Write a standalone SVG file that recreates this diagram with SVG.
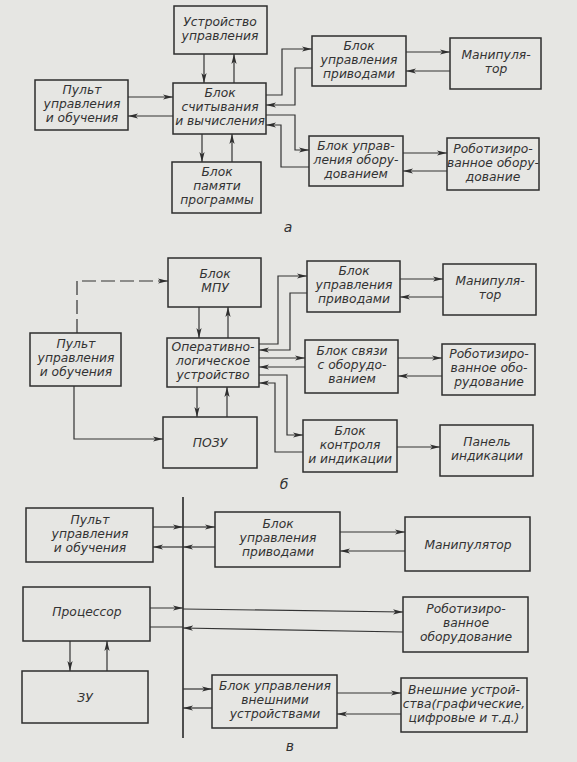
<svg xmlns="http://www.w3.org/2000/svg" width="577" height="762" viewBox="0 0 577 762">
<defs>
<marker id="ar" viewBox="0 -3 10 6" refX="10" refY="0" markerWidth="10" markerHeight="6" markerUnits="userSpaceOnUse" orient="auto">
<path d="M0,-2.6 L10,0 L0,2.6 L2.5,0 z" fill="#2e2e2e"/>
</marker>
<style>
.bx{fill:none;stroke:#2e2e2e;stroke-width:1.5}
.ln{fill:none;stroke:#333;stroke-width:1.2}
.ar{marker-end:url(#ar)}
.dash{stroke-dasharray:14,5}
text{font-family:"DejaVu Sans","Liberation Sans",sans-serif;font-style:italic;font-size:12.3px;fill:#333;text-anchor:middle}
.lbl{font-size:14px}
</style>
</defs>
<rect width="577" height="762" fill="#e6e6e3"/>

<!-- Part a -->
<g id="a_ustr"><rect class="bx" x="174" y="6" width="93" height="48"/><text x="220" y="25.5">Устройство<tspan x="220" dy="14">управления</tspan></text></g>
<g id="a_pult"><rect class="bx" x="35" y="80" width="93" height="50"/><text x="82" y="93.5">Пульт<tspan x="82" dy="14">управления</tspan><tspan x="82" dy="14">и обучения</tspan></text></g>
<g id="a_bsv"><rect class="bx" x="173" y="83" width="93" height="51"/><text x="220" y="97">Блок<tspan x="220" dy="14">считывания</tspan><tspan x="220" dy="14">и вычисления</tspan></text></g>
<g id="a_bpp"><rect class="bx" x="172" y="162" width="89" height="51"/><text x="217" y="176">Блок<tspan x="217" dy="14">памяти</tspan><tspan x="217" dy="14">программы</tspan></text></g>
<g id="a_bup"><rect class="bx" x="312" y="36" width="94" height="50"/><text x="359" y="49.5">Блок<tspan x="359" dy="14">управления</tspan><tspan x="359" dy="14">приводами</tspan></text></g>
<g id="a_man"><rect class="bx" x="450" y="38" width="91" height="51"/><text x="496" y="59">Манипуля-<tspan x="496" dy="14">тор</tspan></text></g>
<g id="a_buo"><rect class="bx" x="309" y="136" width="94" height="50"/><text x="356" y="149.5">Блок управ-<tspan x="356" dy="14">ления обору-</tspan><tspan x="356" dy="14">дованием</tspan></text></g>
<g id="a_rob"><rect class="bx" x="447" y="138" width="92" height="52"/><text x="493" y="152.5">Роботизиро-<tspan x="493" dy="14">ванное обору-</tspan><tspan x="493" dy="14">дование</tspan></text></g>
<text class="lbl" x="288" y="232">а</text>

<!-- Part b -->
<g id="b_mpu"><rect class="bx" x="168" y="258" width="93" height="49"/><text x="215" y="278">Блок<tspan x="215" dy="14">МПУ</tspan></text></g>
<g id="b_pult"><rect class="bx" x="30" y="333" width="91" height="53"/><text x="76" y="348">Пульт<tspan x="76" dy="14">управления</tspan><tspan x="76" dy="14">и обучения</tspan></text></g>
<g id="b_olu"><rect class="bx" x="167" y="338" width="92" height="49"/><text x="213" y="351">Оперативно-<tspan x="213" dy="14">логическое</tspan><tspan x="213" dy="14">устройство</tspan></text></g>
<g id="b_pozu"><rect class="bx" x="163" y="417" width="94" height="51"/><text x="210" y="447">ПОЗУ</text></g>
<g id="b_bup"><rect class="bx" x="307" y="261" width="93" height="51"/><text x="354" y="275">Блок<tspan x="354" dy="14">управления</tspan><tspan x="354" dy="14">приводами</tspan></text></g>
<g id="b_man"><rect class="bx" x="443" y="264" width="93" height="51"/><text x="490" y="285">Манипуля-<tspan x="490" dy="14">тор</tspan></text></g>
<g id="b_bso"><rect class="bx" x="305" y="340" width="93" height="53"/><text x="352" y="355">Блок связи<tspan x="352" dy="14">с оборудо-</tspan><tspan x="352" dy="14">ванием</tspan></text></g>
<g id="b_rob"><rect class="bx" x="442" y="344" width="93" height="51"/><text x="489" y="358">Роботизиро-<tspan x="489" dy="14">ванное обо-</tspan><tspan x="489" dy="14">рудование</tspan></text></g>
<g id="b_bki"><rect class="bx" x="303" y="420" width="94" height="52"/><text x="350" y="434.5">Блок<tspan x="350" dy="14">контроля</tspan><tspan x="350" dy="14">и индикации</tspan></text></g>
<g id="b_pan"><rect class="bx" x="440" y="425" width="93" height="51"/><text x="487" y="446">Панель<tspan x="487" dy="14">индикации</tspan></text></g>
<text class="lbl" x="284" y="489">б</text>

<!-- Part c -->
<g id="c_pult"><rect class="bx" x="26" y="508" width="127" height="54"/><text x="90" y="523.5">Пульт<tspan x="90" dy="14">управления</tspan><tspan x="90" dy="14">и обучения</tspan></text></g>
<g id="c_bup"><rect class="bx" x="215" y="512" width="125" height="55"/><text x="278" y="528">Блок<tspan x="278" dy="14">управления</tspan><tspan x="278" dy="14">приводами</tspan></text></g>
<g id="c_man"><rect class="bx" x="405" y="517" width="125" height="54"/><text x="468" y="548.5">Манипулятор</text></g>
<g id="c_proc"><rect class="bx" x="23" y="587" width="127" height="54"/><text x="87" y="616">Процессор</text></g>
<g id="c_rob"><rect class="bx" x="403" y="597" width="125" height="55"/><text x="466" y="613">Роботизиро-<tspan x="466" dy="14">ванное</tspan><tspan x="466" dy="14">оборудование</tspan></text></g>
<g id="c_zu"><rect class="bx" x="22" y="671" width="126" height="52"/><text x="85" y="701.5">ЗУ</text></g>
<g id="c_buvu"><rect class="bx" x="212" y="675" width="125" height="53"/><text x="275" y="690">Блок управления<tspan x="275" dy="14">внешними</tspan><tspan x="275" dy="14">устройствами</tspan></text></g>
<g id="c_vu"><rect class="bx" x="401" y="678" width="126" height="54"/><text x="464" y="693.5">Внешние устрой-<tspan x="464" dy="14">ства(графические,</tspan><tspan x="464" dy="14">цифровые и т.д.)</tspan></text></g>
<text class="lbl" x="290" y="751">в</text>

<g id="connectors">
<!-- a -->
<path class="ln ar" d="M204,54 V83"/>
<path class="ln ar" d="M234,83 V54"/>
<path class="ln ar" d="M128,97 H173"/>
<path class="ln ar" d="M173,116 H128"/>
<path class="ln ar" d="M202,134 V162"/>
<path class="ln ar" d="M232,162 V134"/>
<path class="ln ar" d="M266,95 H282 V49 H312"/>
<path class="ln ar" d="M312,68 H295 V105 H266"/>
<path class="ln ar" d="M266,115 H295 V150 H309"/>
<path class="ln ar" d="M309,167 H281 V125 H266"/>
<path class="ln ar" d="M406,52 H450"/>
<path class="ln ar" d="M450,71 H406"/>
<path class="ln ar" d="M403,153 H447"/>
<path class="ln ar" d="M447,171 H403"/>
<!-- b -->
<path class="ln ar dash" d="M77,333 V281 H168"/>
<path class="ln ar" d="M74,386 V439 H163"/>
<path class="ln ar" d="M199,307 V338"/>
<path class="ln ar" d="M228,338 V307"/>
<path class="ln ar" d="M197,387 V417"/>
<path class="ln ar" d="M227,417 V387"/>
<path class="ln ar" d="M259,344 H278 V276 H307"/>
<path class="ln ar" d="M307,293 H290 V350 H259"/>
<path class="ln ar" d="M259,358 H305"/>
<path class="ln ar" d="M305,367 H259"/>
<path class="ln ar" d="M259,375 H287 V435 H303"/>
<path class="ln ar" d="M303,452 H275 V383 H259"/>
<path class="ln ar" d="M400,279 H443"/>
<path class="ln ar" d="M443,297 H400"/>
<path class="ln ar" d="M398,358 H442"/>
<path class="ln ar" d="M442,376 H398"/>
<path class="ln ar" d="M397,447 H440"/>
<!-- c -->
<path class="ln" style="stroke-width:1.7" d="M183,497 V738"/>
<path class="ln ar" d="M153,527 H183"/>
<path class="ln ar" d="M183,527 H215"/>
<path class="ln ar" d="M215,547 H183"/>
<path class="ln ar" d="M183,547 H153"/>
<path class="ln ar" d="M150,608 H183"/>
<path class="ln ar" d="M183,609 L403,612"/>
<path class="ln ar" d="M403,632 L183,628"/>
<path class="ln" d="M183,627 H150"/>
<path class="ln ar" d="M70,641 V671"/>
<path class="ln ar" d="M107,671 V641"/>
<path class="ln ar" d="M183,689 H212"/>
<path class="ln ar" d="M212,708 H183"/>
<path class="ln ar" d="M340,532 H405"/>
<path class="ln ar" d="M405,551 H340"/>
<path class="ln ar" d="M337,693 H401"/>
<path class="ln ar" d="M401,714 H337"/>
</g>
</svg>
